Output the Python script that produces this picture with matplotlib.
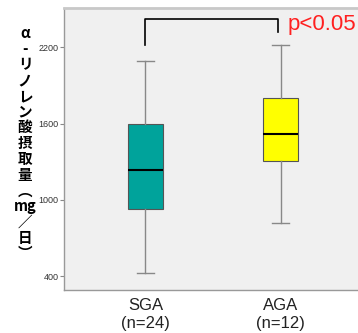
import matplotlib
matplotlib.use('Agg')
import matplotlib.pyplot as plt

# values (mg/day)
groups = ['SGA\n(n=24)', 'AGA\n(n=12)']
whislo = [424, 814]
q1 = [930, 1306]
med = [1235, 1516]
q3 = [1600, 1804]
whishi = [2090, 2215]
colors = ['#00a39b', '#ffff00']
yticks = [400, 1000, 1600, 2200]

stats = []
for i in range(len(groups)):
    stats.append(dict(whislo=whislo[i], q1=q1[i], med=med[i], q3=q3[i],
                      whishi=whishi[i], fliers=[], label=groups[i]))

fig = plt.figure(figsize=(3.58, 3.33), dpi=100)
ax = fig.add_axes([0.179, 0.129, 0.84, 0.847])
ax.set_facecolor('#f0f0f0')

bp = ax.bxp(stats, positions=[1, 2], widths=0.26, patch_artist=True,
            showfliers=False,
            boxprops=dict(edgecolor='#555555', linewidth=0.8),
            whiskerprops=dict(color='#888888', linewidth=1.0),
            capprops=dict(color='#888888', linewidth=1.0),
            medianprops=dict(color='black', linewidth=1.5),
            capwidths=0.125)
for patch, c in zip(bp['boxes'], colors):
    patch.set_facecolor(c)

ax.set_xlim(0.4, 2.62)
ax.set_ylim(290, 2510)
ax.set_yticks(yticks)
ax.set_yticklabels([str(t) for t in yticks], fontsize=6.5, color='#333333',
                   family='Liberation Sans')
ax.tick_params(axis='y', length=3, width=0.8, color='#888888', pad=1)
ax.tick_params(axis='x', length=0, pad=6)
for lab in ax.get_xticklabels():
    lab.set_fontsize(12)
    lab.set_family('Liberation Sans')
    lab.set_color('#222222')
for s in ax.spines.values():
    s.set_color('#999999')
    s.set_linewidth(1.0)
ax.spines['top'].set_color('#c8c8c8')
ax.spines['top'].set_linewidth(2.0)
ax.spines['right'].set_visible(False)

# significance bracket
ax.plot([1, 1, 1.98, 1.98], [2215, 2427, 2427, 2318], color='black', lw=1.2,
        clip_on=False)
ax.text(2.05, 2380, 'p<0.05', color='#ff2020', fontsize=16,
        family='Liberation Sans', va='center', ha='left')

# vertical Japanese y label
ylabel = '\n'.join(['α', '-', 'リ', 'ノ', 'レ', 'ン', '酸', '摂', '取', '量',
                    '︵', 'mg', '／', '日', '︶'])
fig.text(0.07, 0.57, ylabel, fontsize=10.5, fontweight='bold', ha='center',
         va='center', linespacing=0.98,
         family=['Noto Sans CJK JP', 'DejaVu Sans'])

fig.savefig('out.png', dpi=100)
